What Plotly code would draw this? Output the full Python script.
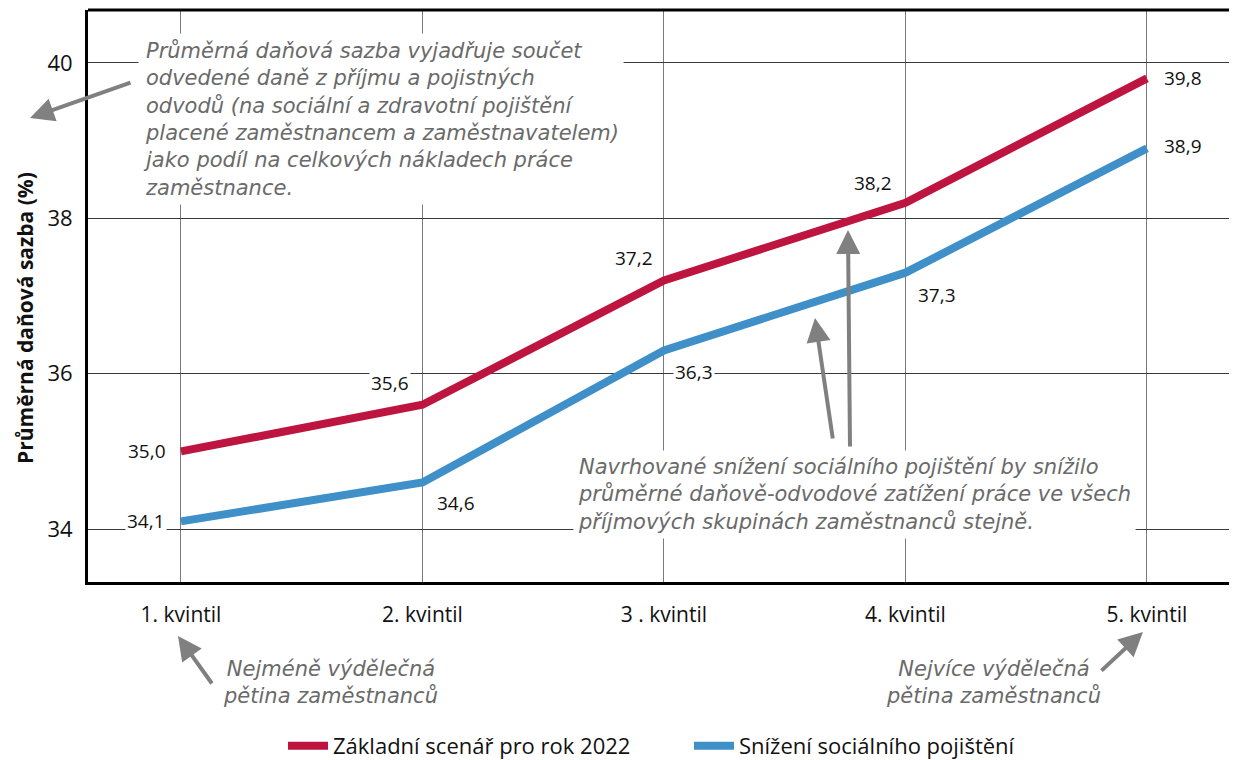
import plotly.graph_objects as go

categories = ["1. kvintil", "2. kvintil", "3 . kvintil", "4. kvintil", "5. kvintil"]
baseline = [35.0, 35.6, 37.2, 38.2, 39.8]
reduced = [34.1, 34.6, 36.3, 37.3, 38.9]
series_names = ["Základní scenář pro rok 2022", "Snížení sociálního pojištění"]
y_ticks = [34, 36, 38, 40]

RED = "#BE1540"
BLUE = "#3F8FC8"
GREY = "#6A6A6A"
FONT = "'Open Sans', 'Noto Sans', sans-serif"
HAND = "'DejaVu Sans', sans-serif"

xs = list(range(len(categories)))

# page offset compensation (body margin)
OFF = 8
FIG_W, FIG_H = 1237, 760 - OFF
L, T, B_PAGE = 88, 10, 582          # plot area edges in page pixels
ML = L - OFF
MT = T - OFF
MB = FIG_H - (B_PAGE - OFF)
W = FIG_W - ML
H = FIG_H - MT - MB

def px(x):
    return (x - L) / W
def py(y):
    return (B_PAGE - y) / H

fig = go.Figure()
fig.add_trace(go.Scatter(x=xs, y=baseline, mode="lines", name=series_names[0],
                         line=dict(color=RED, width=8)))
fig.add_trace(go.Scatter(x=xs, y=reduced, mode="lines", name=series_names[1],
                         line=dict(color=BLUE, width=8)))

def fmt(v):
    return f"{v:.1f}".replace(".", ",")

# data labels (offsets in pixels)
red_off = [(-34, 0), (-32, 22), (-30, 22), (-32, 20), (36, 0)]
blue_off = [(-35, 0), (34, -20), (30, -22), (32, -22), (36, 2)]
anns = []
for i, (v, (dx, dy)) in enumerate(zip(baseline, red_off)):
    anns.append(dict(x=i, y=v, xref="x", yref="y", text=fmt(v), showarrow=False,
                     xshift=dx, yshift=dy, font=dict(family=FONT, size=19, color="#111"),
                     bgcolor="white", borderpad=1))
for i, (v, (dx, dy)) in enumerate(zip(reduced, blue_off)):
    anns.append(dict(x=i, y=v, xref="x", yref="y", text=fmt(v), showarrow=False,
                     xshift=dx, yshift=dy, font=dict(family=FONT, size=19, color="#111"),
                     bgcolor="white", borderpad=1))

anns.append(dict(xref="paper", yref="paper", x=px(138), y=py(33), xanchor="left", yanchor="top",
                 align="left", showarrow=False, bgcolor="white", borderpad=4,
                 font=dict(family=HAND, size=21, color=GREY),
                 text="<i>Průměrná daňová sazba vyjadřuje součet<br>odvedené daně z příjmu a pojistných<br>"
                      "odvodů (na sociální a zdravotní pojištění<br>placené zaměstnancem a zaměstnavatelem)<br>"
                      "jako podíl na celkových nákladech práce<br>zaměstnance.</i>"))
anns.append(dict(xref="paper", yref="paper", x=px(573), y=py(450), xanchor="left", yanchor="top",
                 align="left", showarrow=False, bgcolor="white", borderpad=4,
                 font=dict(family=HAND, size=21, color=GREY),
                 text="<i>Navrhované snížení sociálního pojištění by snížilo<br>"
                      "průměrné daňově-odvodové zatížení práce ve všech<br>"
                      "příjmových skupinách zaměstnanců stejně.</i>"))
anns.append(dict(xref="paper", yref="paper", x=px(330), y=py(682), xanchor="center", yanchor="middle",
                 align="center", showarrow=False,
                 font=dict(family=HAND, size=21, color=GREY),
                 text="<i>Nejméně výdělečná<br>pětina zaměstnanců</i>"))
anns.append(dict(xref="paper", yref="paper", x=px(993), y=py(682), xanchor="center", yanchor="middle",
                 align="center", showarrow=False,
                 font=dict(family=HAND, size=21, color=GREY),
                 text="<i>Nejvíce výdělečná<br>pětina zaměstnanců</i>"))

# y axis title
anns.append(dict(xref="paper", yref="paper", x=px(25), y=py(318), textangle=-90,
                 xanchor="center", yanchor="middle", showarrow=False,
                 text="<b>Průměrná daňová sazba (%)</b>",
                 font=dict(family=FONT, size=21, color="#111")))

# arrows
arrows = [((30, 118), (132, 82)), ((815, 318), (833, 440)), ((848, 230), (850, 448)),
          ((178, 636), (213, 685)), ((1143, 632), (1100, 672))]
for (hx, hy), (tx, ty) in arrows:
    anns.append(dict(xref="paper", yref="paper", x=px(hx), y=py(hy), ax=tx - hx, ay=ty - hy,
                     axref="pixel", ayref="pixel", text="", showarrow=True,
                     arrowhead=2, arrowsize=1.2, arrowwidth=4, arrowcolor="#808080"))

fig.update_layout(
    width=FIG_W, height=FIG_H,
    margin=dict(l=ML, r=0, t=MT, b=MB, autoexpand=False),
    paper_bgcolor="white", plot_bgcolor="white",
    font=dict(family=FONT, size=20, color="#111"),
    showlegend=True,
    legend=dict(orientation="h", x=px(283), xanchor="left", y=py(746), yanchor="middle",
                font=dict(family=FONT, size=22, color="#111"), itemwidth=40,
                entrywidth=351, traceorder="normal"),
    annotations=anns,
    shapes=[dict(type="line", xref="paper", yref="paper", x0=0, x1=1, y0=1, y1=1,
                 line=dict(color="black", width=3))],
)
fig.update_xaxes(range=[-0.385, 4.406], tickvals=xs, ticktext=categories,
                 showgrid=True, gridcolor="#7A7A7A", gridwidth=1, zeroline=False,
                 showline=True, linecolor="black", linewidth=3, ticks="", automargin=False,
                 ticklabelstandoff=12, tickfont=dict(size=21, family=FONT))
fig.update_yaxes(range=[33.32, 40.68], tickvals=y_ticks, ticktext=[str(t) for t in y_ticks],
                 showgrid=True, gridcolor="#3A3A3A", gridwidth=1, zeroline=False,
                 showline=True, linecolor="black", linewidth=3, ticks="", automargin=False,
                 ticklabelstandoff=8, tickfont=dict(size=22, family=FONT))

fig.write_html("out.html")
